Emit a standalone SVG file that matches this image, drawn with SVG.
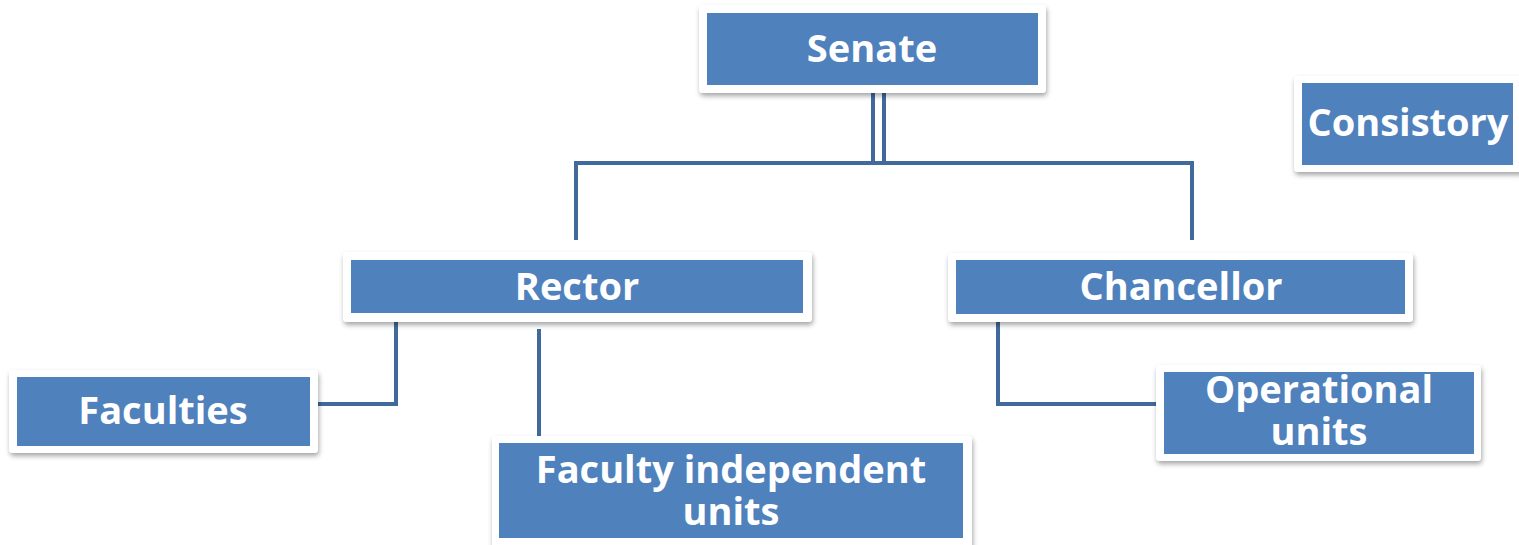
<svg xmlns="http://www.w3.org/2000/svg" width="1519" height="545" viewBox="0 0 1519 545">
<style>
.outer{fill:#ffffff;filter:url(#sh)}
.inner{fill:#4f81bd}
.lbl{font-family:"Open Sans","Noto Sans","DejaVu Sans",sans-serif;font-weight:bold;font-size:38px;fill:#ffffff;text-anchor:middle}
.con{fill:none;stroke:#41699c;stroke-width:4}
</style>
<defs>
<filter id="sh" x="-10%" y="-20%" width="120%" height="150%">
<feDropShadow dx="1" dy="3" stdDeviation="2.5" flood-color="#000" flood-opacity="0.35"/>
</filter>
</defs>
<rect width="1519" height="545" fill="#ffffff"/>
<g id="connectors">
<path class="con" d="M873 93V163M884 93V163"/>
<path class="con" d="M576 240V163H1192V240"/>
<path class="con" d="M396 322V404H318"/>
<path class="con" d="M539 329V443"/>
<path class="con" d="M998 322V404H1156"/>
</g>
<g id="senate">
<rect class="outer" x="699" y="5" width="347" height="88" rx="4"/>
<rect class="inner" x="707" y="13" width="331" height="72"/>
<text class="lbl" x="872" y="62">Senate</text>
</g>
<g id="consistory">
<rect class="outer" x="1294" y="76" width="230" height="96" rx="4"/>
<rect class="inner" x="1302" y="83" width="211" height="82"/>
<text class="lbl" x="1408" y="136">Consistory</text>
</g>
<g id="rector">
<rect class="outer" x="343" y="252" width="469" height="70" rx="4"/>
<rect class="inner" x="351" y="260" width="452" height="53"/>
<text class="lbl" x="577" y="300">Rector</text>
</g>
<g id="chancellor">
<rect class="outer" x="948" y="253" width="465" height="69" rx="4"/>
<rect class="inner" x="956" y="260" width="449" height="54"/>
<text class="lbl" x="1181" y="300">Chancellor</text>
</g>
<g id="faculties">
<rect class="outer" x="9" y="370" width="309" height="83" rx="4"/>
<rect class="inner" x="17" y="377" width="293" height="69"/>
<text class="lbl" x="163" y="424">Faculties</text>
</g>
<g id="faculty-independent-units">
<rect class="outer" x="492" y="436" width="480" height="115" rx="4"/>
<rect class="inner" x="499" y="443" width="464" height="95"/>
<text class="lbl" x="731" y="483">Faculty independent</text>
<text class="lbl" x="731" y="525">units</text>
</g>
<g id="operational-units">
<rect class="outer" x="1156" y="365" width="325" height="96" rx="4"/>
<rect class="inner" x="1164" y="372" width="310" height="82"/>
<text class="lbl" x="1319" y="403">Operational</text>
<text class="lbl" x="1319" y="445">units</text>
</g>
</svg>
